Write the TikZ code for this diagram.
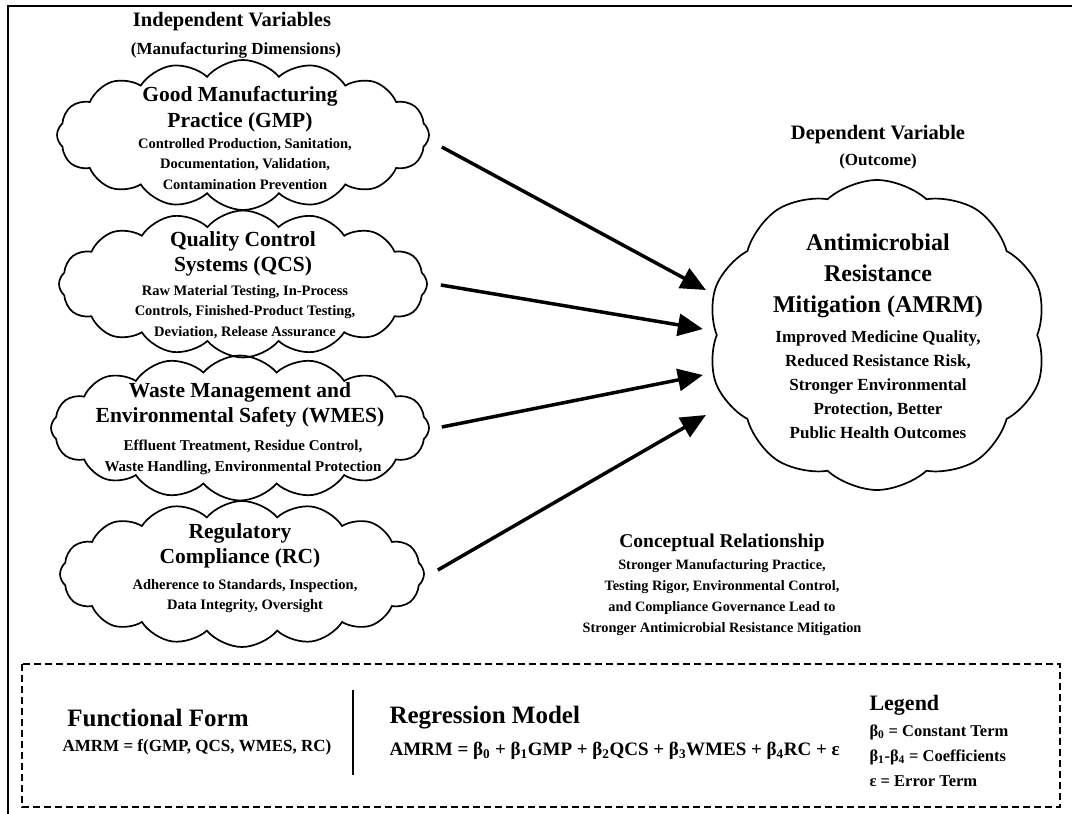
\documentclass[tikz,border=0pt]{standalone}
\usepackage{fontspec}
\setmainfont{Liberation Serif}
\usetikzlibrary{positioning, shapes.symbols, arrows.meta}

\tikzset{
	puffy/.style={cloud, draw, line width=1.7pt, cloud ignores aspect, cloud puffs=16, cloud puff arc=100, inner sep=0pt},
	headtxt/.style={font=\bfseries\fontsize{21.5}{25.5}\selectfont, align=center},
	bodytxt/.style={font=\bfseries\fontsize{14.5}{20.5}\selectfont, align=center},
	sidetxt/.style={font=\bfseries\fontsize{20.5}{24}\selectfont, align=center},
	link/.style={line width=3.5pt, -{Triangle[length=25pt,width=22pt]}},
}

\begin{document}
\begin{tikzpicture}[x=1pt, y=-1pt]
	\useasboundingbox (0,0) rectangle (1072,814);
	
	%Frame
	\draw[line width=2pt] (8,814) -- (8,6) -- (1072,6);
	
	%Headings
	\node[sidetxt] (indep) at (232,22){Independent Variables};
	\node[font=\bfseries\fontsize{17}{20}\selectfont] (indepsub) at (236,50){(Manufacturing Dimensions)};
	\node[sidetxt] (dep) at (878,135){Dependent Variable};
	\node[font=\bfseries\fontsize{17}{20}\selectfont] (depsub) at (878,161){(Outcome)};
	
	%Clouds
	\node[puffy, minimum width=372pt, minimum height=150pt] (gmp) at (243,135){};
	\node[puffy, minimum width=368pt, minimum height=147pt] (qcs) at (243,284){};
	\node[puffy, minimum width=378pt, minimum height=145pt] (wmes) at (240,428){};
	\node[puffy, minimum width=364pt, minimum height=146pt] (rc) at (242,574){};
	\node[puffy, cloud puffs=10, cloud puff arc=85, minimum width=339pt, minimum height=310pt] (amrm) at (877,335){};
	
	%Cloud texts
	\node[headtxt] (gmphead) at (240,109){Good Manufacturing\\Practice (GMP)};
	\node[bodytxt] (gmpbody) at (245,164){Controlled Production, Sanitation,\\Documentation, Validation,\\Contamination Prevention};
	\node[headtxt] (qcshead) at (243,254){Quality Control\\Systems (QCS)};
	\node[bodytxt] (qcsbody) at (245,312){Raw Material Testing, In-Process\\Controls, Finished-Product Testing,\\Deviation, Release Assurance};
	\node[headtxt] (wmeshead) at (240,405){Waste Management and\\Environmental Safety (WMES)};
	\node[bodytxt, font=\bfseries\fontsize{15}{21}\selectfont] (wmesbody) at (243,457){Effluent Treatment, Residue Control,\\Waste Handling, Environmental Protection};
	\node[headtxt] (rchead) at (240,546){Regulatory\\Compliance (RC)};
	\node[bodytxt] (rcbody) at (245,596){Adherence to Standards, Inspection,\\Data Integrity, Oversight};
	\node[headtxt, font=\bfseries\fontsize{24}{31}\selectfont] (amrmhead) at (878,276){Antimicrobial\\Resistance\\Mitigation (AMRM)};
	\node[bodytxt, font=\bfseries\fontsize{17}{24}\selectfont] (amrmbody) at (878,385){Improved Medicine Quality,\\Reduced Resistance Risk,\\Stronger Environmental\\Protection, Better\\Public Health Outcomes};
	
	%Arrows
	\draw[link] ([xshift=12pt,yshift=-12pt]gmp.east) -- ([xshift=-10pt,yshift=45pt]amrm.west);
	\draw[link] ([xshift=13pt,yshift=-1pt]qcs.east) -- ([xshift=-13pt,yshift=6pt]amrm.west);
	\draw[link] ([xshift=12pt,yshift=1pt]wmes.east) -- ([xshift=-13pt,yshift=-40pt]amrm.west);
	\draw[link] ([xshift=13pt,yshift=4pt]rc.east) -- ([xshift=-10pt,yshift=-80pt]amrm.west);
	
	%Conceptual relationship
	\node[font=\bfseries\fontsize{19.5}{23}\selectfont] (concept) at (722,543){Conceptual Relationship};
	\node[bodytxt, font=\bfseries\fontsize{14.3}{21}\selectfont] (conceptbody) at (722,598){Stronger Manufacturing Practice,\\Testing Rigor, Environmental Control,\\and Compliance Governance Lead to\\Stronger Antimicrobial Resistance Mitigation};
	
	%Model box
	\draw[line width=1.5pt, dash pattern=on 7pt off 4pt] (22,664) rectangle (1060,807);
	\draw[line width=1.5pt] (353,690) -- (353,775);
	\node[font=\bfseries\fontsize{25}{28}\selectfont] (funchead) at (158,718){Functional Form};
	\node[font=\bfseries\fontsize{17}{20}\selectfont] (funcbody) at (197,747){AMRM = f(GMP, QCS, WMES, RC)};
	\node[font=\bfseries\fontsize{25}{28}\selectfont, anchor=west] (reghead) at (386,718){Regression Model};
	\node[font=\bfseries\fontsize{19}{22}\selectfont, anchor=west] (regbody) at (386,751){AMRM = β\textsubscript{0} + β\textsubscript{1}GMP + β\textsubscript{2}QCS + β\textsubscript{3}WMES + β\textsubscript{4}RC + ε};
	\node[font=\bfseries\fontsize{22}{25}\selectfont, anchor=west] (leghead) at (866,705){Legend};
	\node[font=\bfseries\fontsize{16.5}{25}\selectfont, align=left, anchor=north west] (legbody) at (866,721){β\textsubscript{0} = Constant Term\\β\textsubscript{1}-β\textsubscript{4} = Coefficients\\ε = Error Term};
	
\end{tikzpicture}
\end{document}
